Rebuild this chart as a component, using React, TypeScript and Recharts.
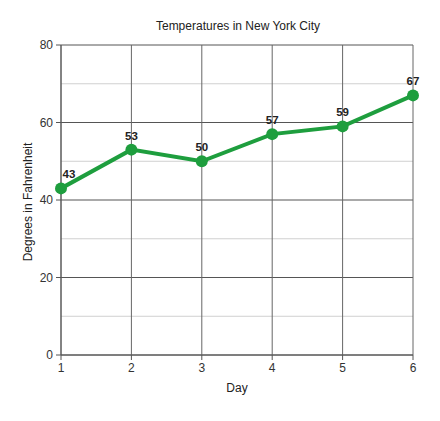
import React from "react";
import { LineChart, Line, XAxis, YAxis, ReferenceLine, LabelList } from "recharts";

const days = [1, 2, 3, 4, 5, 6];
const temps = [43, 53, 50, 57, 59, 67];
const yTicks = [0, 20, 40, 60, 80];
const minorY = [10, 30, 50, 70];

const data = days.map((d, i) => ({ day: d, temp: temps[i] }));

const FONT = "'Liberation Sans', Arial, sans-serif";

const PointLabel = (props: any) => {
  const { x, y, value, index } = props;
  const dx = index === 0 ? 8 : 0;
  return (
    <text x={x + dx} y={y - 10} textAnchor="middle" fontFamily={FONT} fontSize={11.5} fontWeight="bold" fill="#222">
      {value}
    </text>
  );
};

const YLabel = (props: any) => {
  return (
    <text x={28} y={202} transform="rotate(-90 28 202)" textAnchor="middle" dominantBaseline="central" fontFamily={FONT} fontSize={12} fill="#222">
      Degrees in Fahrenheit
    </text>
  );
};

export default function App() {
  return (
    <div style={{ position: "absolute", left: 0, top: 0, width: 440, height: 421, background: "#fff", fontFamily: FONT }}>
      <div style={{ position: "absolute", left: 0, width: 476, top: 19, textAlign: "center", fontSize: 12, color: "#222" }}>
        Temperatures in New York City
      </div>
      <LineChart width={440} height={421} data={data} margin={{ top: 45, right: 27, bottom: 36, left: 0 }}>
        {minorY.map((v) => (
          <ReferenceLine key={"m" + v} y={v} stroke="#d0d0d0" strokeWidth={1} />
        ))}
        {yTicks.map((v) => (
          <ReferenceLine key={"M" + v} y={v} stroke="#555" strokeWidth={1} />
        ))}
        {days.map((d) => (
          <ReferenceLine key={"v" + d} x={d} stroke="#666" strokeWidth={1} />
        ))}
        <XAxis
          dataKey="day"
          type="number"
          domain={[1, 6]}
          ticks={days}
          height={30}
          tickSize={5}
          tickMargin={3}
          axisLine={{ stroke: "#555" }}
          tickLine={{ stroke: "#555" }}
          tick={{ fontSize: 12, fill: "#333", fontFamily: FONT }}
          label={{ value: "Day", position: "insideBottom", offset: -7, fontSize: 12, fill: "#222", fontFamily: FONT }}
        />
        <YAxis
          type="number"
          domain={[0, 80]}
          ticks={yTicks}
          width={61}
          tickSize={5}
          tickMargin={3}
          axisLine={{ stroke: "#555" }}
          tickLine={{ stroke: "#555" }}
          tick={{ fontSize: 12, fill: "#333", fontFamily: FONT }}
          label={<YLabel />}
        />
        <Line
          dataKey="temp"
          stroke="#1e9e3e"
          strokeWidth={4}
          dot={{ r: 6, fill: "#1e9e3e", stroke: "#1e9e3e", strokeWidth: 0 }}
          isAnimationActive={false}
        >
          <LabelList dataKey="temp" content={<PointLabel />} />
        </Line>
      </LineChart>
    </div>
  );
}
